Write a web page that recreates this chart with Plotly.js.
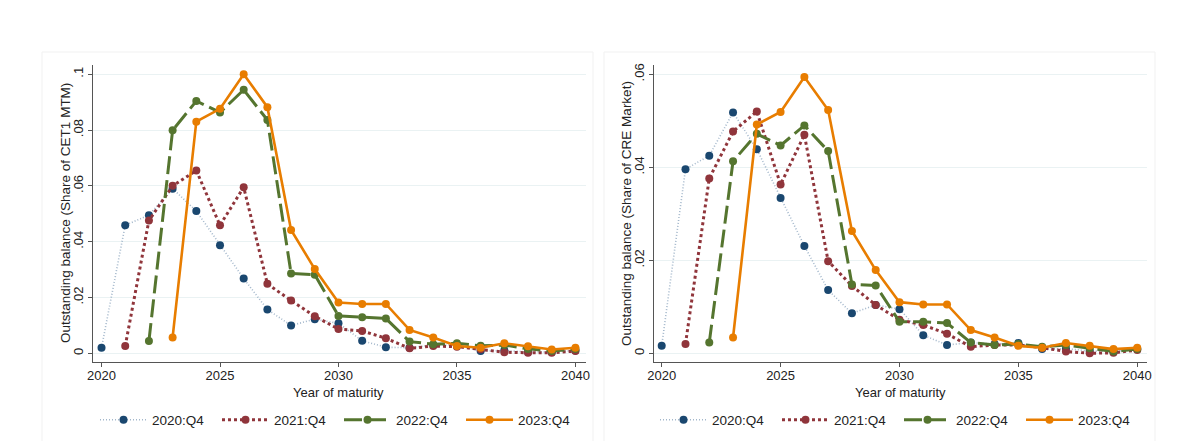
<!DOCTYPE html>
<html>
<head>
<meta charset="utf-8">
<script src="https://cdn.plot.ly/plotly-3.0.1.min.js"></script>
<style>html,body{margin:0;padding:0;background:#fff;}#chart{width:1200px;height:441px;}</style>
</head>
<body>
<div id="chart"></div>
<script>
// Years of maturity
const years2020 = [2020,2021,2022,2023,2024,2025,2026,2027,2028,2029,2030,2031,2032,2033,2034,2035,2036,2037,2038,2039,2040];
const years2021 = years2020.slice(1);
const years2022 = years2020.slice(2);
const years2023 = years2020.slice(3);

// Left panel: share of CET1 MTM
const cet1_2020 = [0.0020,0.0459,0.0495,0.0590,0.0510,0.0387,0.0268,0.0157,0.0100,0.0122,0.0108,0.0045,0.0022,0.0020,0.0030,0.0030,0.0008,0.0010,0.0005,0.0005,0.0010];
const cet1_2021 = [0.0026,0.0476,0.0600,0.0655,0.0459,0.0595,0.0249,0.0189,0.0133,0.0087,0.0080,0.0054,0.0018,0.0026,0.0024,0.0015,0.0004,0.0002,0.0002,0.0008];
const cet1_2022 = [0.0044,0.0799,0.0904,0.0863,0.0944,0.0836,0.0286,0.0282,0.0134,0.0129,0.0125,0.0042,0.0033,0.0036,0.0027,0.0030,0.0016,0.0008,0.0016];
const cet1_2023 = [0.0057,0.0830,0.0876,0.1000,0.0882,0.0442,0.0302,0.0182,0.0177,0.0177,0.0084,0.0057,0.0026,0.0020,0.0036,0.0025,0.0014,0.0020];

// Right panel: share of CRE market
const cre_2020 = [0.0016,0.0396,0.0425,0.0518,0.0439,0.0334,0.0231,0.0136,0.0086,0.0104,0.0095,0.0039,0.0018,0.0023,0.0020,0.0022,0.0009,0.0010,0.0005,0.0004,0.0009];
const cre_2021 = [0.0020,0.0376,0.0477,0.0520,0.0363,0.0470,0.0198,0.0145,0.0104,0.0072,0.0061,0.0042,0.0014,0.0018,0.0018,0.0012,0.0004,0.0000,0.0001,0.0007];
const cre_2022 = [0.0023,0.0413,0.0472,0.0447,0.0490,0.0435,0.0148,0.0146,0.0068,0.0068,0.0065,0.0023,0.0018,0.0020,0.0014,0.0018,0.0011,0.0004,0.0009];
const cre_2023 = [0.0034,0.0492,0.0519,0.0594,0.0523,0.0263,0.0179,0.0110,0.0105,0.0105,0.0050,0.0034,0.0016,0.0012,0.0022,0.0016,0.0009,0.0012];

const seriesNames = ['2020:Q4','2021:Q4','2022:Q4','2023:Q4'];
const xTickVals = [2020,2025,2030,2035,2040];
const leftTickVals = [0,0.02,0.04,0.06,0.08,0.1];
const leftTickText = ['0','.02','.04','.06','.08','.1'];
const rightTickVals = [0,0.02,0.04,0.06];
const rightTickText = ['0','.02','.04','.06'];

const styles = [
  {line:{color:'rgba(140,165,190,0.8)',width:1.6,dash:'1px,2px'}, marker:{color:'#1a476f',size:8}},
  {line:{color:'#90353b',width:3,dash:'dot'}, marker:{color:'#90353b',size:8}},
  {line:{color:'#55752f',width:3,dash:'18px,6px'}, marker:{color:'#55752f',size:8}},
  {line:{color:'#e87d00',width:2.6,dash:'solid'}, marker:{color:'#e87d00',size:8}}
];

const leftData = [[years2020,cet1_2020],[years2021,cet1_2021],[years2022,cet1_2022],[years2023,cet1_2023]];
const rightData = [[years2020,cre_2020],[years2021,cre_2021],[years2022,cre_2022],[years2023,cre_2023]];

const traces = [];
leftData.forEach((d,i)=>{
  traces.push({x:d[0],y:d[1],type:'scatter',mode:'lines+markers',name:seriesNames[i],
    line:styles[i].line,marker:styles[i].marker,xaxis:'x',yaxis:'y',legend:'legend'});
});
rightData.forEach((d,i)=>{
  traces.push({x:d[0],y:d[1],type:'scatter',mode:'lines+markers',name:seriesNames[i],
    line:styles[i].line,marker:styles[i].marker,xaxis:'x2',yaxis:'y2',legend:'legend2'});
});

const font = {family:'Liberation Sans, Arial, Helvetica, sans-serif',size:13,color:'#222'};
const axCommon = {showline:true,linecolor:'#555',linewidth:1,ticks:'outside',ticklen:4,tickcolor:'#555',
  zeroline:false,tickfont:{size:13,color:'#222'},automargin:false};
const yDomain = [1-362/441, 1-65/441];

const legendCommon = {orientation:'h',xanchor:'center',y:1-420/441,yanchor:'middle',font:{size:13.5,color:'#222'},
  itemwidth:47,entrywidth:60,entrywidthmode:'pixels',bgcolor:'rgba(0,0,0,0)'};

const layout = {
  width:1200,height:441,
  margin:{l:0,r:0,t:0,b:0,autoexpand:false},
  paper_bgcolor:'#fff',plot_bgcolor:'#fff',
  font:font,
  showlegend:true,
  xaxis:Object.assign({},axCommon,{domain:[93/1200,585.6/1200],range:[2019.64,2040.43],tickvals:xTickVals,showgrid:false,anchor:'y',ticklabelstandoff:-3}),
  yaxis:Object.assign({},axCommon,{domain:yDomain,range:[-0.0031,0.1033],tickvals:leftTickVals,ticktext:leftTickText,tickangle:-90,
    showgrid:true,gridcolor:'#eaf2f3',gridwidth:1,anchor:'x'}),
  xaxis2:Object.assign({},axCommon,{domain:[654.1/1200,1147/1200],range:[2019.68,2040.41],tickvals:xTickVals,showgrid:false,anchor:'y2',ticklabelstandoff:-3}),
  yaxis2:Object.assign({},axCommon,{domain:yDomain,range:[-0.00187,0.062],tickvals:rightTickVals,ticktext:rightTickText,tickangle:-90,
    showgrid:true,gridcolor:'#eaf2f3',gridwidth:1,anchor:'x2'}),
  legend:Object.assign({},legendCommon,{x:339/1200}),
  legend2:Object.assign({},legendCommon,{x:899/1200}),
  shapes:[
    {type:'rect',xref:'paper',yref:'paper',x0:42/1200,x1:593/1200,y0:-0.01,y1:1-52/441,line:{color:'#f1f1f1',width:1},fillcolor:'rgba(0,0,0,0)',layer:'below'},
    {type:'rect',xref:'paper',yref:'paper',x0:604/1200,x1:1155/1200,y0:-0.01,y1:1-52/441,line:{color:'#f1f1f1',width:1},fillcolor:'rgba(0,0,0,0)',layer:'below'}
  ],
  annotations:[
    {text:'Year of maturity',xref:'paper',yref:'paper',x:339/1200,y:1-392/441,xanchor:'center',yanchor:'middle',showarrow:false,font:{size:13,color:'#222'}},
    {text:'Year of maturity',xref:'paper',yref:'paper',x:900/1200,y:1-392/441,xanchor:'center',yanchor:'middle',showarrow:false,font:{size:13,color:'#222'}},
    {text:'Outstanding balance (Share of CET1 MTM)',xref:'paper',yref:'paper',x:65/1200,y:1-213/441,xanchor:'center',yanchor:'middle',textangle:-90,showarrow:false,font:{size:13.5,color:'#222'}},
    {text:'Outstanding balance (Share of CRE Market)',xref:'paper',yref:'paper',x:626/1200,y:1-213/441,xanchor:'center',yanchor:'middle',textangle:-90,showarrow:false,font:{size:13.5,color:'#222'}}
  ]
};

Plotly.newPlot('chart',traces,layout,{staticPlot:true,displayModeBar:false});
</script>
</body>
</html>
